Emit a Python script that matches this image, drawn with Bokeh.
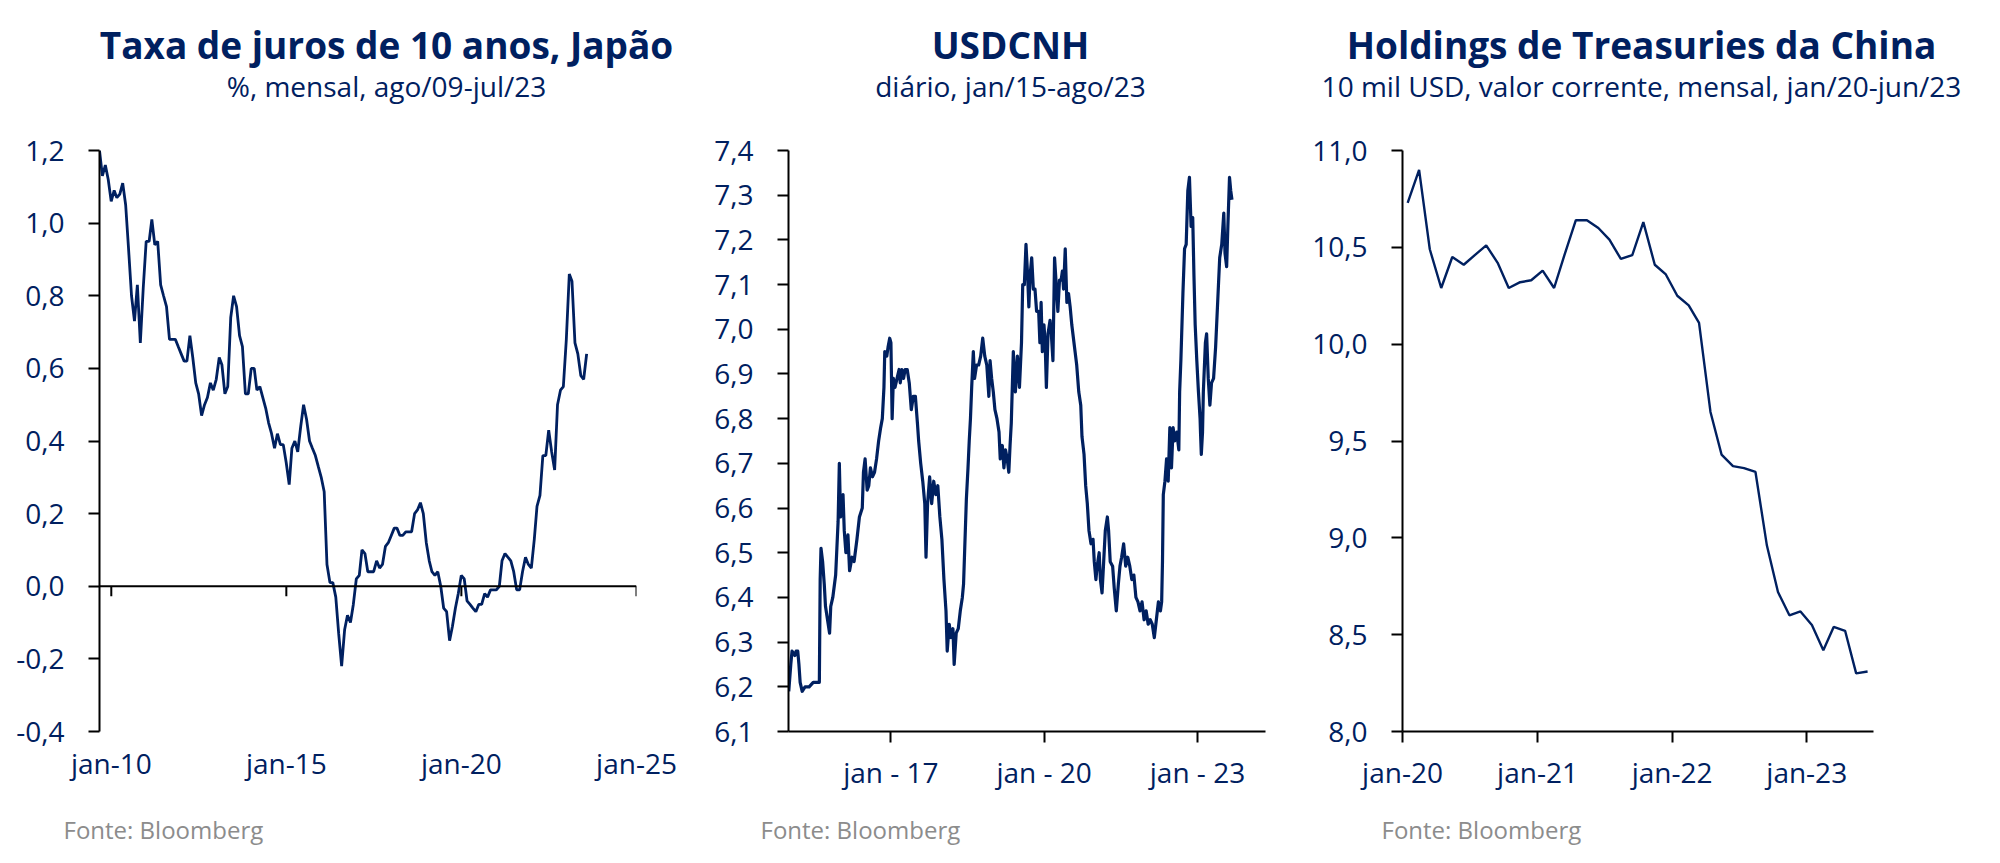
import pandas as pd
from bokeh.plotting import figure
from bokeh.layouts import row, column
from bokeh.models import Range1d, Span
from bokeh.core.properties import value
from bokeh.embed import file_html
from bokeh.resources import INLINE

NAVY = "#002060"
GRAY = "#8c8c8c"
FONT = "Open Sans"

# ---------------- Panel 1: Japan 10y yield (%, monthly, ago/09-jul/23) ----------------
jp_first_month_end = "2009-08-31"
jp_yield = [
    1.20, 1.13, 1.16, 1.12, 1.06, 1.09, 1.07, 1.08, 1.11, 1.05,
    0.93, 0.80, 0.73, 0.83, 0.67, 0.82, 0.95, 0.95, 1.01, 0.94,
    0.95, 0.83, 0.80, 0.77, 0.68, 0.68, 0.68, 0.66, 0.64, 0.62,
    0.62, 0.69, 0.63, 0.56, 0.53, 0.47, 0.50, 0.52, 0.56, 0.54,
    0.57, 0.63, 0.61, 0.53, 0.55, 0.74, 0.80, 0.77, 0.69, 0.66,
    0.53, 0.53, 0.60, 0.60, 0.54, 0.55, 0.52, 0.49, 0.45, 0.42,
    0.38, 0.42, 0.39, 0.39, 0.34, 0.28, 0.38, 0.40, 0.37, 0.44,
    0.50, 0.46, 0.40, 0.38, 0.36, 0.33, 0.30, 0.26, 0.06, 0.01,
    0.01, -0.03, -0.13, -0.22, -0.12, -0.08, -0.10, -0.05, 0.02, 0.03,
    0.10, 0.09, 0.04, 0.04, 0.04, 0.07, 0.05, 0.06, 0.11, 0.12,
    0.14, 0.16, 0.16, 0.14, 0.14, 0.15, 0.15, 0.15, 0.20, 0.21,
    0.23, 0.20, 0.12, 0.07, 0.04, 0.03, 0.04, 0.00, -0.06, -0.07,
    -0.15, -0.11, -0.06, -0.02, 0.03, 0.02, -0.04, -0.05, -0.06, -0.07,
    -0.05, -0.05, -0.02, -0.03, -0.01, -0.01, -0.01, 0.00, 0.07, 0.09,
    0.08, 0.07, 0.04, -0.01, -0.01, 0.04, 0.08, 0.06, 0.05, 0.13,
    0.22, 0.25, 0.36, 0.36, 0.43, 0.37, 0.32, 0.50, 0.54, 0.55,
    0.68, 0.86, 0.84, 0.67, 0.64, 0.58, 0.57, 0.64,
]
jp_yticks = [-0.4, -0.2, 0.0, 0.2, 0.4, 0.6, 0.8, 1.0, 1.2]
jp_ytick_labels = ["-0,4", "-0,2", "0,0", "0,2", "0,4", "0,6", "0,8", "1,0", "1,2"]
jp_xtick_dates = ["2010-01-01", "2015-01-01", "2020-01-01", "2025-01-01"]
jp_xtick_labels = ["jan-10", "jan-15", "jan-20", "jan-25"]

# ---------------- Panel 2: USDCNH (daily, jan/15-ago/23), read points ----------------
cnh_year = [
    2015.005, 2015.045, 2015.069, 2015.125, 2015.149, 2015.181, 2015.204, 2015.228, 2015.268, 2015.324,
    2015.404, 2015.484, 2015.564, 2015.604, 2015.620, 2015.636, 2015.668, 2015.700, 2015.724, 2015.804,
    2015.827, 2015.867, 2015.923, 2015.947, 2015.971, 2015.995,
    2016.019, 2016.051, 2016.067, 2016.091, 2016.123, 2016.163, 2016.195, 2016.243, 2016.283, 2016.339,
    2016.387, 2016.443, 2016.466, 2016.498, 2016.538, 2016.570, 2016.602, 2016.642, 2016.682, 2016.722,
    2016.762, 2016.802, 2016.834, 2016.866, 2016.882, 2016.922, 2016.946, 2016.978,
    2017.002, 2017.026, 2017.050, 2017.082, 2017.122, 2017.162, 2017.185, 2017.217, 2017.249, 2017.281,
    2017.321, 2017.361, 2017.401, 2017.441, 2017.481, 2017.521, 2017.545, 2017.585, 2017.625, 2017.665,
    2017.689, 2017.720, 2017.760, 2017.800, 2017.840, 2017.880, 2017.920, 2017.960,
    2018.000, 2018.040, 2018.080, 2018.104, 2018.144, 2018.176, 2018.216, 2018.240, 2018.280, 2018.320,
    2018.360, 2018.400, 2018.424, 2018.447, 2018.479, 2018.511, 2018.535, 2018.559, 2018.583, 2018.615,
    2018.639, 2018.679, 2018.719, 2018.759, 2018.799, 2018.839, 2018.879, 2018.919, 2018.943, 2018.974,
    2019.006, 2019.038, 2019.078, 2019.118, 2019.142, 2019.182, 2019.214, 2019.246, 2019.278, 2019.310,
    2019.334, 2019.358, 2019.398, 2019.438, 2019.478, 2019.518, 2019.558, 2019.582, 2019.614, 2019.646,
    2019.678, 2019.702, 2019.726, 2019.758, 2019.790, 2019.822, 2019.854, 2019.894, 2019.918, 2019.942,
    2019.966, 2019.998,
    2020.021, 2020.045, 2020.077, 2020.117, 2020.141, 2020.173, 2020.205, 2020.237, 2020.269, 2020.301,
    2020.333, 2020.357, 2020.381, 2020.413, 2020.445, 2020.477, 2020.509, 2020.541, 2020.573, 2020.605,
    2020.637, 2020.677, 2020.716, 2020.740, 2020.780, 2020.812, 2020.844, 2020.876, 2020.916, 2020.956,
    2020.980,
    2021.012, 2021.036, 2021.076, 2021.100, 2021.132, 2021.164, 2021.196, 2021.236, 2021.260, 2021.292,
    2021.339, 2021.371, 2021.411, 2021.451, 2021.483, 2021.515, 2021.555, 2021.595, 2021.635, 2021.675,
    2021.715, 2021.755, 2021.795, 2021.835, 2021.875, 2021.915, 2021.955, 2021.995,
    2022.035, 2022.075, 2022.115, 2022.155, 2022.195, 2022.235, 2022.275, 2022.299, 2022.315, 2022.331,
    2022.363, 2022.395, 2022.427, 2022.459, 2022.491, 2022.523, 2022.555, 2022.595, 2022.635, 2022.651,
    2022.675, 2022.715, 2022.747, 2022.779, 2022.811, 2022.843, 2022.875, 2022.907, 2022.931, 2022.955,
    2022.987,
    2023.019, 2023.051, 2023.059, 2023.075, 2023.099, 2023.115, 2023.155, 2023.179, 2023.211, 2023.243,
    2023.275, 2023.315, 2023.355, 2023.395, 2023.435, 2023.475, 2023.515, 2023.539, 2023.571, 2023.595,
    2023.627, 2023.651, 2023.675,
]
cnh_value = [
    6.19, 6.25, 6.28, 6.27, 6.28, 6.28, 6.25, 6.21, 6.19, 6.20,
    6.20, 6.21, 6.21, 6.21, 6.44, 6.51, 6.48, 6.43, 6.38, 6.32,
    6.38, 6.40, 6.45, 6.51, 6.57, 6.70,
    6.58, 6.60, 6.63, 6.55, 6.50, 6.54, 6.46, 6.49, 6.48, 6.53,
    6.58, 6.60, 6.68, 6.71, 6.64, 6.65, 6.69, 6.67, 6.68, 6.71,
    6.75, 6.78, 6.80, 6.87, 6.95, 6.94, 6.96, 6.98,
    6.97, 6.80, 6.89, 6.87, 6.89, 6.91, 6.88, 6.91, 6.89, 6.91,
    6.91, 6.88, 6.82, 6.85, 6.85, 6.79, 6.75, 6.70, 6.66, 6.61,
    6.49, 6.61, 6.67, 6.61, 6.66, 6.63, 6.65, 6.58,
    6.53, 6.44, 6.37, 6.28, 6.34, 6.31, 6.33, 6.25, 6.32, 6.33,
    6.37, 6.40, 6.43, 6.51, 6.62, 6.69, 6.75, 6.80, 6.87, 6.95,
    6.89, 6.92, 6.92, 6.94, 6.98, 6.94, 6.92, 6.85, 6.93, 6.89,
    6.86, 6.82, 6.80, 6.77, 6.71, 6.74, 6.69, 6.73, 6.71, 6.68,
    6.74, 6.79, 6.95, 6.86, 6.94, 6.87, 6.97, 7.10, 7.10, 7.19,
    7.12, 7.05, 7.12, 7.16, 7.09, 7.09, 7.04, 7.04, 6.97, 7.06,
    6.95, 7.01,
    6.97, 6.87, 6.99, 7.02, 6.99, 6.93, 7.16, 7.10, 7.04, 7.11,
    7.11, 7.13, 7.09, 7.18, 7.06, 7.08, 7.05, 7.01, 6.98, 6.95,
    6.92, 6.86, 6.83, 6.76, 6.72, 6.65, 6.61, 6.55, 6.52, 6.53,
    6.48,
    6.44, 6.47, 6.50, 6.44, 6.41, 6.48, 6.55, 6.58, 6.55, 6.48,
    6.47, 6.42, 6.37, 6.43, 6.47, 6.49, 6.52, 6.47, 6.49, 6.47,
    6.44, 6.45, 6.40, 6.39, 6.37, 6.39, 6.35, 6.37,
    6.34, 6.35, 6.34, 6.31, 6.35, 6.39, 6.37, 6.39, 6.48, 6.63,
    6.66, 6.71, 6.66, 6.78, 6.69, 6.78, 6.75, 6.77, 6.73, 6.86,
    6.93, 7.08, 7.18, 7.19, 7.31, 7.34, 7.23, 7.25, 7.12, 7.01,
    6.93,
    6.86, 6.80, 6.77, 6.72, 6.77, 6.86, 6.97, 6.99, 6.89, 6.83,
    6.88, 6.89, 6.96, 7.06, 7.16, 7.19, 7.26, 7.17, 7.14, 7.23,
    7.34, 7.31, 7.29,
]
cnh_yticks = [6.1, 6.2, 6.3, 6.4, 6.5, 6.6, 6.7, 6.8, 6.9, 7.0, 7.1, 7.2, 7.3, 7.4]
cnh_ytick_labels = ["6,1", "6,2", "6,3", "6,4", "6,5", "6,6", "6,7", "6,8", "6,9",
                    "7,0", "7,1", "7,2", "7,3", "7,4"]
cnh_xtick_dates = ["2017-01-01", "2020-01-01", "2023-01-01"]
cnh_xtick_labels = ["jan - 17", "jan - 20", "jan - 23"]

# ---------------- Panel 3: China Treasury holdings (monthly, jan/20-jun/23) ----------------
ust_first_month = "2020-01-15"
ust_holdings = [
    10.73, 10.90, 10.49, 10.29, 10.45, 10.41, 10.46, 10.51, 10.42, 10.29,
    10.32, 10.33, 10.38, 10.29, 10.46, 10.64, 10.64, 10.60, 10.54, 10.44,
    10.46, 10.63, 10.41, 10.36, 10.25, 10.20, 10.11, 9.65, 9.43, 9.37,
    9.36, 9.34, 8.96, 8.72, 8.60, 8.62, 8.55, 8.42, 8.54, 8.52,
    8.30, 8.31,
]
ust_yticks = [8.0, 8.5, 9.0, 9.5, 10.0, 10.5, 11.0]
ust_ytick_labels = ["8,0", "8,5", "9,0", "9,5", "10,0", "10,5", "11,0"]
ust_xtick_dates = ["2020-01-01", "2021-01-01", "2022-01-01", "2023-01-01"]
ust_xtick_labels = ["jan-20", "jan-21", "jan-22", "jan-23"]

titles = ["Taxa de juros de 10 anos, Japão", "USDCNH", "Holdings de Treasuries da China"]
subtitles = ["%, mensal, ago/09-jul/23", "diário, jan/15-ago/23",
             "10 mil USD, valor corrente, mensal, jan/20-jun/23"]
sources = ["Fonte: Bloomberg", "Fonte: Bloomberg", "Fonte: Bloomberg"]

# ---------------- layout constants ----------------
TOTAL_W = 1984
HEADER_H = 110
FOOTER_H = 54
FRAME_H = 581
BORDER_TOP = 40
BORDER_BOTTOM = 62
title_centers = [386, 1010, 1641]      # x within header canvas
source_lefts = [63, 760, 1381]         # x within footer canvas


def ms(d):
    return int(pd.Timestamp(d).timestamp() * 1000)


def year_to_ts(y):
    yr = int(y)
    a = pd.Timestamp(year=yr, month=1, day=1)
    b = pd.Timestamp(year=yr + 1, month=1, day=1)
    return a + (b - a) * (y - yr)


def blank_fig(h):
    p = figure(x_range=Range1d(0, TOTAL_W), y_range=Range1d(h, 0),
               frame_width=TOTAL_W, frame_height=h,
               min_border_left=0, min_border_right=0, min_border_top=0, min_border_bottom=0,
               x_axis_location=None, y_axis_location=None,
               toolbar_location=None, output_backend="svg",
               background_fill_color="white", border_fill_color="white")
    p.outline_line_color = None
    p.grid.visible = False
    return p


def base_fig(x0, x1, y0, y1, fw, left, right, yticks, ylabels, xticks, xlabels):
    p = figure(x_axis_type="datetime",
               x_range=Range1d(pd.Timestamp(x0).to_pydatetime(), pd.Timestamp(x1).to_pydatetime()),
               y_range=Range1d(y0, y1),
               frame_width=fw, frame_height=FRAME_H,
               min_border_left=left, min_border_right=right,
               min_border_top=BORDER_TOP, min_border_bottom=BORDER_BOTTOM,
               toolbar_location=None, output_backend="svg",
               background_fill_color="white", border_fill_color="white")
    p.outline_line_color = None
    p.xgrid.visible = False
    p.ygrid.visible = False
    for ax in (p.xaxis[0], p.yaxis[0]):
        ax.axis_line_color = "black"
        ax.axis_line_width = 2
        ax.major_tick_line_color = "black"
        ax.major_tick_line_width = 2
        ax.major_tick_in = 0
        ax.major_tick_out = 11
        ax.minor_tick_line_color = None
        ax.major_label_text_font = FONT
        ax.major_label_text_font_size = "28px"
        ax.major_label_text_color = NAVY
    p.yaxis.ticker = yticks
    p.yaxis.major_label_overrides = dict(zip(yticks, ylabels))
    p.yaxis.major_label_standoff = 24
    xt = [ms(d) for d in xticks]
    p.xaxis.ticker = xt
    p.xaxis.major_label_overrides = dict(zip(xt, xlabels))
    p.xaxis.major_label_standoff = 10
    return p


# ---------------- header (titles + subtitles) ----------------
header = blank_fig(HEADER_H)
header.text(x=title_centers, y=[44] * 3, text=titles, text_align="center",
            text_baseline="alphabetic", text_font=value(FONT), text_font_size="37px",
            text_font_style="bold", text_color=NAVY)
header.text(x=title_centers, y=[85] * 3, text=subtitles, text_align="center",
            text_baseline="alphabetic", text_font=value(FONT), text_font_size="28px",
            text_color=NAVY)

# ---------------- footer (sources) ----------------
footer = blank_fig(FOOTER_H)
footer.text(x=source_lefts, y=[36] * 3, text=sources, text_align="left",
            text_baseline="alphabetic", text_font=value(FONT), text_font_size="24px",
            text_color=GRAY)

# ---------------- Panel 1 ----------------
jp_dates = pd.date_range(jp_first_month_end, periods=len(jp_yield), freq=pd.offsets.MonthEnd())
p1 = base_fig(jp_dates[0], "2025-01-01", -0.4, 1.2, 537, 99, 56,
              jp_yticks, jp_ytick_labels, jp_xtick_dates, jp_xtick_labels)
p1.xaxis.axis_line_color = None
p1.xaxis.major_tick_line_color = None
p1.xaxis.major_tick_out = 0
p1.xaxis.major_label_standoff = 12
p1.add_layout(Span(location=0, dimension="width", line_color="black", line_width=2))
tick_len = 10 * (1.2 - (-0.4)) / FRAME_H
tick_ts = [pd.Timestamp(d) for d in jp_xtick_dates]
p1.segment(x0=tick_ts, y0=[0] * len(tick_ts), x1=tick_ts, y1=[-tick_len] * len(tick_ts),
           line_color="black", line_width=2)
p1.line(jp_dates, jp_yield, line_color=NAVY, line_width=2.8)

# ---------------- Panel 2 ----------------
cnh_dates = [year_to_ts(y) for y in cnh_year]
p2 = base_fig("2015-01-01", "2024-05-01", 6.1, 7.4, 477, 96, 27,
              cnh_yticks, cnh_ytick_labels, cnh_xtick_dates, cnh_xtick_labels)
p2.line(cnh_dates, cnh_value, line_color=NAVY, line_width=3.2, line_join="round")

# ---------------- Panel 3 ----------------
ust_dates = pd.date_range(ust_first_month, periods=len(ust_holdings), freq=pd.DateOffset(months=1))
p3 = base_fig("2020-01-01", "2023-07-01", 8.0, 11.0, 471, 110, 111,
              ust_yticks, ust_ytick_labels, ust_xtick_dates, ust_xtick_labels)
p3.line(ust_dates, ust_holdings, line_color=NAVY, line_width=2.4)

layout = column(header, row(p1, p2, p3, spacing=0), footer, spacing=0)
open("out.html", "w").write(file_html(layout, INLINE))
